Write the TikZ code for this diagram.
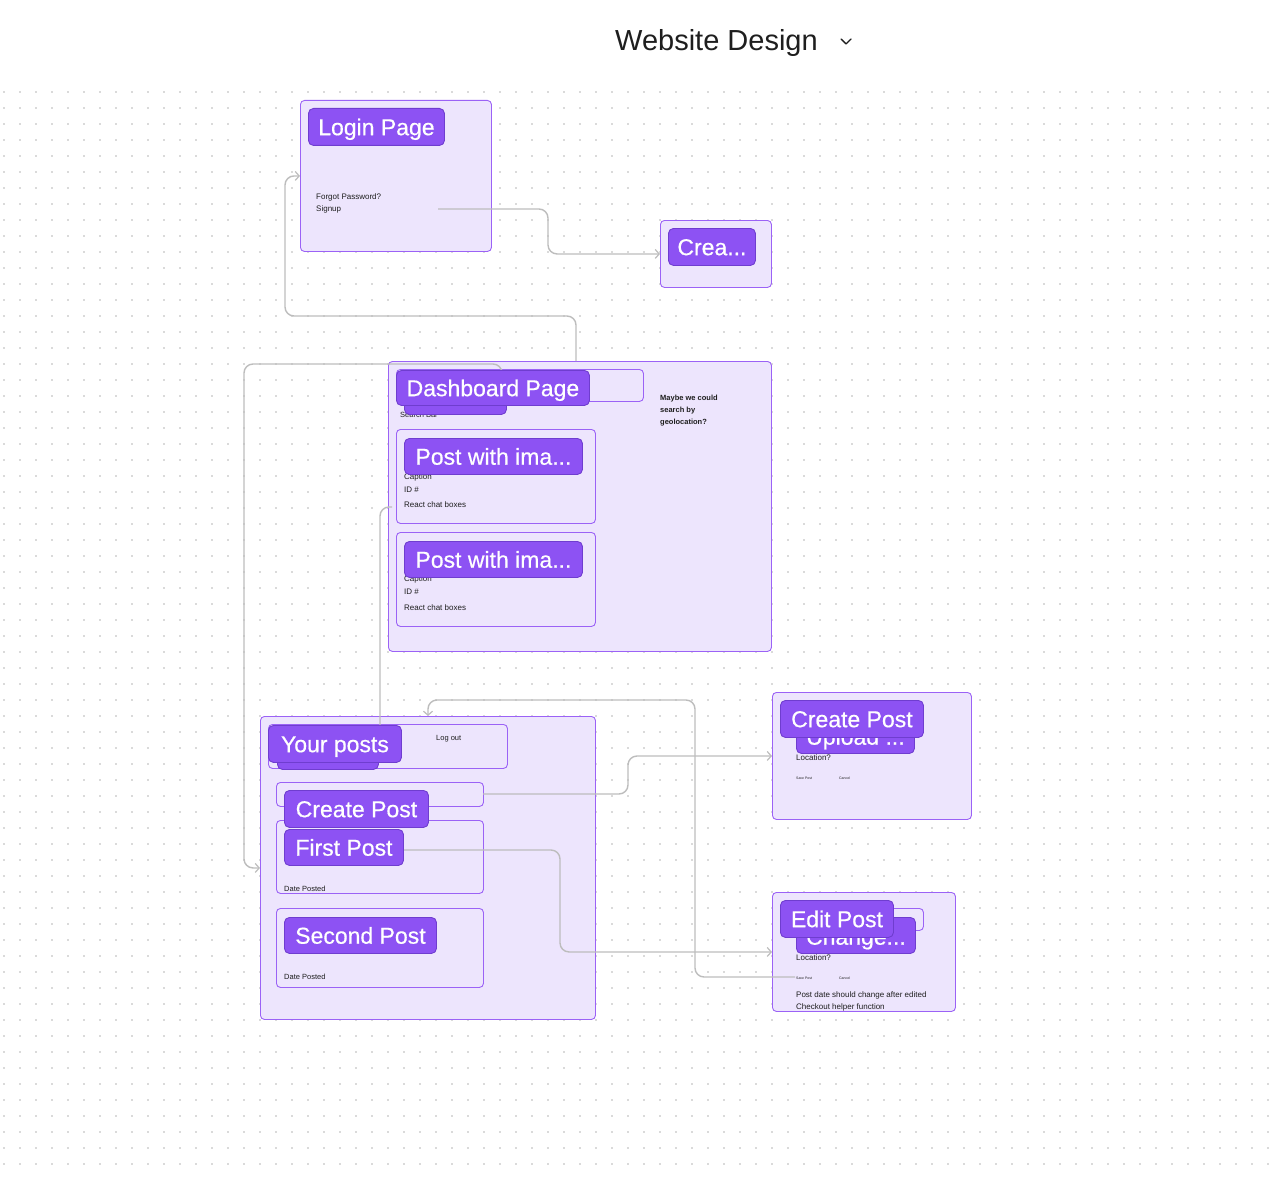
\documentclass[tikz,border=0pt]{standalone}
\usepackage{fontspec}
\setmainfont{Liberation Sans}
\newfontfamily\lblfont[FakeBold=0.5]{Liberation Sans}
\usetikzlibrary{arrows.meta}
\definecolor{frb}{HTML}{9B62F6}
\definecolor{frf}{HTML}{EDE5FD}
\definecolor{lbf}{HTML}{8D52F3}
\definecolor{lbd}{HTML}{6F3DCF}
\definecolor{cg}{HTML}{BDBDBD}
\definecolor{dotc}{HTML}{DADADA}
\definecolor{tx}{HTML}{1E1E1E}
\tikzset{
  framebox/.style={draw=frb, fill=frf, line width=0.9pt, rounded corners=4pt, anchor=north west, inner sep=0pt},
  lbl/.style={draw=lbd, fill=lbf, line width=0.9pt, rounded corners=5pt, text=white, anchor=north west, inner sep=0pt, text height=17pt, text depth=0.5pt, font=\lblfont\fontsize{23}{27}\selectfont},
  small/.style={text=tx, anchor=west, inner sep=0pt, font=\fontsize{8}{9}\selectfont},
  tiny/.style={text=tx, anchor=west, inner sep=0pt, font=\fontsize{3.5}{4}\selectfont},
  conn/.style={draw=cg, line width=1.4pt, rounded corners=9pt},
  arr/.style={-{Straight Barb[length=4pt,width=9pt,line width=1.2pt]}}
}
\begin{document}
\begin{tikzpicture}[x=1pt,y=-1pt]
\useasboundingbox (0,0) rectangle (1282,1180);
\fill[white] (0,0) rectangle (1282,1180);
% dot grid
\foreach \i in {0,...,79}{
  \foreach \j in {0,...,67}{
    \fill[dotc] ({4+16*\i-1},{92+16*\j-1}) rectangle ++(2,2);
  }
}
% title
\node[text=tx, anchor=west, inner sep=0pt, font=\fontsize{29}{33}\selectfont] (title) at (615,43) {Website Design};
\draw[tx, line width=1.4pt, line cap=round, line join=round] (841,39) -- (846,44) -- (851,39);

% ---------- Login page
\node[framebox, minimum width=191pt, minimum height=151pt] (login) at (300,100) {};
\node[small] (forgot) at (316,197) {Forgot Password?};
\node[small] (signup) at (316,209) {Signup};
\coordinate (signupEnd) at (438,209);

% ---------- Crea
\node[framebox, minimum width=111pt, minimum height=67pt] (crea) at (660,220) {};

% ---------- Dashboard
\node[framebox, minimum width=383pt, minimum height=290pt] (dash) at (388,361) {};
\node[framebox, minimum width=247pt, minimum height=32pt] (search) at (396,369) {};
\node[small, font=\fontsize{7.5}{9}\selectfont] (searchT) at (400,415) {Search Bar};
\node[lbl, minimum width=102pt, minimum height=30pt] (searchL) at (404,384) {};
\node[small, font=\bfseries\fontsize{7.5}{9}\selectfont] (note1) at (660,399) {Maybe we could};
\node[small, font=\bfseries\fontsize{7.5}{9}\selectfont] (note2) at (660,411) {search by};
\node[small, font=\bfseries\fontsize{7.5}{9}\selectfont] (note3) at (660,423) {geolocation?};
\node[framebox, minimum width=199pt, minimum height=94pt] (post1) at (396,429) {};
\node[small] (p1a) at (404,477) {Caption};
\node[small] (p1b) at (404,490) {ID \#};
\node[small] (p1c) at (404,505) {React chat boxes};
\node[framebox, minimum width=199pt, minimum height=94pt] (post2) at (396,532) {};
\node[small] (p2a) at (404,579) {Caption};
\node[small] (p2b) at (404,592) {ID \#};
\node[small] (p2c) at (404,608) {React chat boxes};

% ---------- Your posts
\node[framebox, minimum width=335pt, minimum height=303pt] (yp) at (260,716) {};
\node[framebox, minimum width=239pt, minimum height=44pt] (yphead) at (268,724) {};
\node[lbl, minimum width=101pt, minimum height=30pt] (ypHidden) at (277,739) {};
\node[small, font=\fontsize{7.5}{9}\selectfont] (logout) at (436,739) {Log out};
\node[framebox, minimum width=207pt, minimum height=24pt] (cprow) at (276,782) {};
\node[framebox, minimum width=207pt, minimum height=73pt] (fp) at (276,820) {};
\node[small, font=\fontsize{7.5}{9}\selectfont] (fpd) at (284,889) {Date Posted};
\node[framebox, minimum width=207pt, minimum height=79pt] (sp) at (276,908) {};
\node[small, font=\fontsize{7.5}{9}\selectfont] (spd) at (284,977) {Date Posted};

% ---------- Create Post (right)
\node[framebox, minimum width=199pt, minimum height=127pt] (cp) at (772,692) {};
\node[lbl, minimum width=118pt, minimum height=36pt] (upl) at (796,717) {\raisebox{-1pt}{Upload ...}};
\node[small] (cploc) at (796,758) {Location?};
\node[tiny] (cpsave) at (796,778) {Save Post};
\node[tiny] (cpcancel) at (839,778) {Cancel};

% ---------- Edit Post
\node[framebox, minimum width=183pt, minimum height=119pt] (ep) at (772,892) {};
\node[framebox, minimum width=127pt, minimum height=22pt] (epbox) at (796,908) {};
\node[lbl, minimum width=119pt, minimum height=36pt] (chg) at (796,917) {\raisebox{-1pt}{Change...}};
\node[small] (eploc) at (796,958) {Location?};
\node[tiny] (epsave) at (796,978) {Save Post};
\node[tiny] (epcancel) at (839,978) {Cancel};
\node[small] (epn1) at (796,995) {Post date should change after edited};
\node[small] (epn2) at (796,1007) {Checkout helper function};

% ---------- connectors
\coordinate (dashTop) at (576,361);
\coordinate (dashHid) at (502,398);
\coordinate (post1Lft) at (392,507);
\coordinate (ypHeadTop) at (380,728);
\coordinate (saveEnd) at (795,977);
\coordinate (cprowE) at (483,794);
\coordinate (fpE) at (403,850);

\draw[conn, arr] (signupEnd) -- (548,209) |- (crea.west);
\draw[conn, arr] (dashTop) -- (576,316) -- (285,316) |- (login.west);
\draw[conn, arr] (dashHid) -- (502,364) -- (244,364) |- (yp.west);
\draw[conn] (post1Lft) -- (380,507) -- (ypHeadTop);
\draw[conn, arr] (saveEnd) -- (695,977) -- (695,700) -- (428,700) -- (yp.north -| 428,700);
\draw[conn, arr] (cprowE) -- (628,794) -- (628,756) -- (cp.west);
\draw[conn, arr] (fpE) -- (560,850) |- (ep.west);

% ---------- visible labels
\node[lbl, minimum width=136pt, minimum height=37pt] (loginL) at (308,108) {Login Page};
\node[lbl, minimum width=87pt, minimum height=37pt] (creaL) at (668,228) {Crea...};
\node[lbl, minimum width=193pt, minimum height=35pt] (dashL) at (396,370) {Dashboard Page};
\node[lbl, minimum width=178pt, minimum height=36pt] (post1L) at (404,438) {Post with ima...};
\node[lbl, minimum width=178pt, minimum height=36pt] (post2L) at (404,541) {Post with ima...};
\node[lbl, minimum width=133pt, minimum height=37pt] (ypL) at (268,725) {Your posts};
\node[lbl, minimum width=144pt, minimum height=37pt] (cpL) at (284,790) {Create Post};
\node[lbl, minimum width=119pt, minimum height=36pt] (fpL) at (284,829) {First Post};
\node[lbl, minimum width=152pt, minimum height=36pt] (spL) at (284,917) {Second Post};
\node[lbl, minimum width=143pt, minimum height=37pt] (cpRL) at (780,700) {Create Post};
\node[lbl, minimum width=113pt, minimum height=37pt] (epL) at (780,900) {Edit Post};
\end{tikzpicture}
\end{document}
